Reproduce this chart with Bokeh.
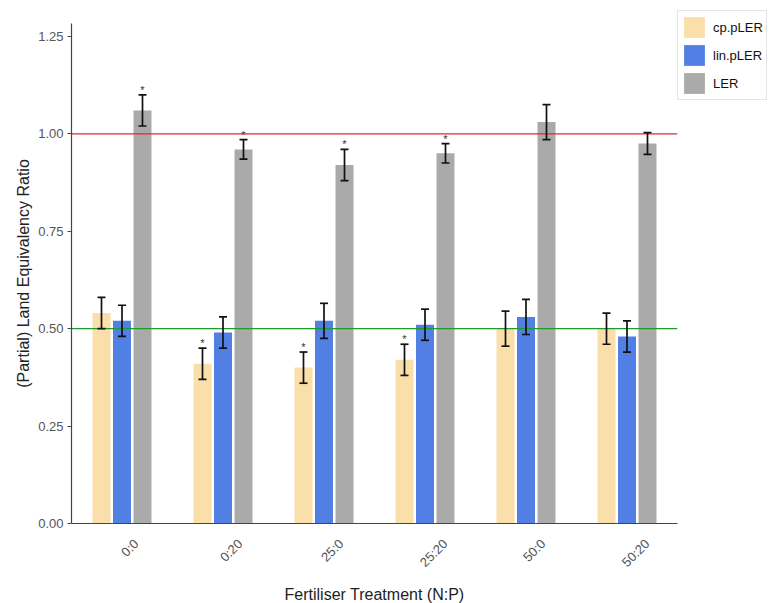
import math
from bokeh.plotting import figure
from bokeh.models import (ColumnDataSource, Range1d, Whisker, TeeHead, Span,
                          FixedTicker, NumeralTickFormatter, Legend, LegendItem,
                          CustomJSTickFormatter)
from bokeh.core.properties import value
from bokeh.embed import file_html
from bokeh.resources import INLINE

categories = ["0:0", "0:20", "25:0", "25:20", "50:0", "50:20"]
cp_mean = [0.54, 0.41, 0.40, 0.42, 0.50, 0.50]
cp_se = [0.04, 0.04, 0.04, 0.04, 0.045, 0.04]
cp_sig = [False, True, True, True, False, False]
lin_mean = [0.52, 0.49, 0.52, 0.51, 0.53, 0.48]
lin_se = [0.04, 0.04, 0.045, 0.04, 0.045, 0.04]
lin_sig = [False, False, False, False, False, False]
ler_mean = [1.06, 0.96, 0.92, 0.95, 1.03, 0.975]
ler_se = [0.04, 0.025, 0.04, 0.025, 0.045, 0.028]
ler_sig = [True, True, True, True, False, False]
y_ticks = [0.0, 0.25, 0.5, 0.75, 1.0, 1.25]

series = [
    ("cp.pLER", cp_mean, cp_se, cp_sig, "#FADFAB", -0.203),
    ("lin.pLER", lin_mean, lin_se, lin_sig, "#527FE3", 0.0),
    ("LER", ler_mean, ler_se, ler_sig, "#AAAAAA", 0.203),
]

FONT = "Liberation Sans"
n = len(categories)
centers = [i + 0.5 for i in range(n)]

p = figure(x_range=Range1d(0, n), y_range=Range1d(0, 1.283),
           frame_width=606, frame_height=500, output_backend="svg", toolbar_location=None,
           min_border_left=71, min_border_right=0, min_border_top=23, min_border_bottom=80)
p.outline_line_color = None
p.xgrid.grid_line_color = None
p.ygrid.grid_line_color = None

items = []
for name, mean, se, sig, color, off in series:
    src = ColumnDataSource(dict(
        x=[c + off for c in centers], mean=mean,
        upper=[m + s for m, s in zip(mean, se)],
        lower=[m - s for m, s in zip(mean, se)],
    ))
    r = p.vbar(x="x", top="mean", width=0.178,
               source=src, fill_color=color, line_color=None)
    items.append(LegendItem(label=name, renderers=[r]))
    w = Whisker(source=src, base="x", upper="upper", lower="lower",
                dimension="height", line_color="#111111", line_width=1.7, level="overlay",
                upper_head=TeeHead(size=8, line_color="#111111", line_width=1.7),
                lower_head=TeeHead(size=8, line_color="#111111", line_width=1.7))
    p.add_layout(w)
    sx = [c + off for c, g in zip(centers, sig) if g]
    sy = [m + s for m, s, g in zip(mean, se, sig) if g]
    if sx:
        ssrc = ColumnDataSource(dict(x=sx, y=sy, t=["*"] * len(sx)))
        p.text(x="x", y="y", text="t", source=ssrc,
               text_align="center", text_baseline="middle", text_font_size="11px",
               text_color="#333333", text_font=value(FONT), y_offset=-5)

p.add_layout(Span(location=1.0, dimension="width", line_color="#E8262A", line_width=1.3))
p.add_layout(Span(location=0.5, dimension="width", line_color="#1E9A2E", line_width=1.3))

# x axis: one tick per category, nudged so that each rotated label is centred under its group
label_nudge = [0.03 * len(c) + 0.05 for c in categories]
xaxis = p.xaxis[0]
xaxis.ticker = FixedTicker(ticks=[c + d for c, d in zip(centers, label_nudge)])
xaxis.formatter = CustomJSTickFormatter(args=dict(names=categories),
                                        code="return names[Math.floor(tick)];")

p.yaxis.ticker = FixedTicker(ticks=y_ticks)
p.yaxis.formatter = NumeralTickFormatter(format="0.00")
for ax in (xaxis, p.yaxis[0]):
    ax.axis_line_color = "#444444"
    ax.axis_line_width = 1.2
    ax.major_tick_line_color = "#444444"
    ax.minor_tick_line_color = None
    ax.major_label_text_font = FONT
    ax.major_label_text_font_size = "13px"
    ax.major_label_text_color = "#555555"
    ax.axis_label_text_font = FONT
    ax.axis_label_text_font_size = "16px"
    ax.axis_label_text_font_style = "normal"
    ax.axis_label_text_color = "#222222"
p.yaxis.major_tick_out = 4
p.yaxis.major_tick_in = 0
p.yaxis.major_label_standoff = 4
p.yaxis.axis_label = "(Partial) Land Equivalency Ratio"
p.yaxis.axis_label_standoff = 3
xaxis.major_tick_out = 0
xaxis.major_tick_in = 0
xaxis.major_tick_line_color = None
xaxis.major_label_orientation = math.pi / 4
xaxis.major_label_standoff = 18
xaxis.axis_label = "Fertiliser Treatment (N:P)"
xaxis.axis_label_standoff = 8

legend = Legend(items=items, location=(0, 423), orientation="vertical",
                glyph_width=26, glyph_height=26, label_text_font=FONT,
                label_text_font_size="13px", label_text_color="#111111",
                spacing=2, padding=3, margin=0, label_standoff=6,
                border_line_color="#CCCCCC", border_line_width=1,
                background_fill_color="white", background_fill_alpha=1.0)
p.add_layout(legend, "right")

open("out.html", "w").write(file_html(p, INLINE))
